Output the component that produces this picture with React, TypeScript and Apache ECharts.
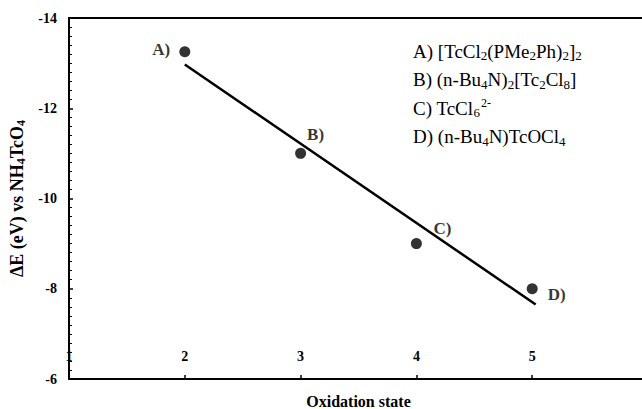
import React, { useEffect, useRef } from "react";
import * as echarts from "echarts";

const pointX = [2, 3, 4, 5];
const pointY = [-13.25, -11.0, -9.0, -8.0];
const pointLabels = ["A)", "B)", "C)", "D)"];
const fitX = [2, 5.03];
const fitY = [-12.97, -7.65];
const legendLines = [
  "A) [TcCl{s|2}(PMe{s|2}Ph){s|2}]{s|2}",
  "B) (n-Bu{s|4}N){s|2}[Tc{s|2}Cl{s|8}]",
  "C) TcCl{s|6}{p|2-}",
  "D) (n-Bu{s|4}N)TcOCl{s|4}",
];

const FONT = "Liberation Serif";

export default function App() {
  const ref = useRef<HTMLDivElement>(null);
  useEffect(() => {
    if (!ref.current) return;
    const chart = echarts.init(ref.current, undefined, { renderer: "svg" });
    const labelPos: any[] = [
      { position: "left", distance: 9, offset: [0, -2] },
      { position: "top", offset: [15, 0] },
      { position: "top", offset: [26, 4] },
      { position: "right", offset: [5, 6] },
    ];
    const rich = {
      n: { fontFamily: FONT, fontSize: 19, color: "#000", lineHeight: 22 },
      s: { fontFamily: FONT, fontSize: 13, color: "#000", lineHeight: 22, padding: [9, 0, 0, 0] },
      p: { fontFamily: FONT, fontSize: 12, color: "#000", lineHeight: 22, padding: [0, 0, 10, 1] },
    };
    chart.setOption({
      animation: false,
      grid: { left: 69, right: -6, top: 18, bottom: 30, outerBoundsMode: "none", containLabel: false },
      xAxis: [
        {
          type: "value",
          min: 1,
          max: 6,
          interval: 1,
          position: "bottom",
          name: "Oxidation state",
          nameLocation: "middle",
          nameGap: 14,
          nameTextStyle: { fontFamily: FONT, fontWeight: "bold", fontSize: 16, color: "#000" },
          axisLine: { lineStyle: { color: "#000", width: 2 } },
          axisTick: { inside: true, length: 4, lineStyle: { color: "#000", width: 1.5 } },
          axisLabel: {
            inside: true,
            margin: 16,
            fontFamily: FONT,
            fontWeight: "bold",
            fontSize: 14,
            color: "#000",
            formatter: (v: number) => (v === 6 ? "" : String(v)),
          },
          splitLine: { show: false },
        },
        {
          type: "value",
          min: 1,
          max: 6,
          position: "top",
          axisLine: { show: true, lineStyle: { color: "#000", width: 2 } },
          axisTick: { show: false },
          axisLabel: { show: false },
          splitLine: { show: false },
        },
      ],
      yAxis: {
        type: "value",
        min: -14,
        max: -6,
        interval: 2,
        inverse: true,
        name: "ΔE (eV) vs NH{s|4}TcO{s|4}",
        nameLocation: "middle",
        nameGap: 31,
        nameRotate: 90,
        nameTextStyle: {
          fontFamily: FONT,
          fontWeight: "bold",
          fontSize: 18,
          color: "#000",
          rich: {
            s: { fontFamily: FONT, fontWeight: "bold", fontSize: 12, color: "#000", padding: [9, 0, 0, 0] },
          },
        },
        axisLine: { show: true, lineStyle: { color: "#000", width: 2 } },
        axisTick: { inside: true, length: 4, lineStyle: { color: "#000", width: 1.5 } },
        minorTick: { show: true, splitNumber: 10, length: 3, lineStyle: { color: "#000", width: 1 } },
        axisLabel: { fontFamily: FONT, fontWeight: "bold", fontSize: 14, color: "#000", margin: 12 },
        splitLine: { show: false },
      },
      series: [
        {
          type: "line",
          data: fitX.map((x, i) => [x, fitY[i]]),
          showSymbol: false,
          symbol: "none",
          lineStyle: { color: "#000", width: 2.5 },
          silent: true,
        },
        {
          type: "scatter",
          symbolSize: 11,
          itemStyle: { color: "#000" },
          data: pointX.map((x, i) => ({
            value: [x, pointY[i]],
            label: {
              show: true,
              formatter: pointLabels[i],
              fontFamily: FONT,
              fontWeight: "bold",
              fontSize: 17,
              color: "#000",
              ...labelPos[i],
            },
          })),
        },
      ],
      graphic: legendLines.map((t, i) => ({
        type: "text",
        left: 413,
        top: 40 + i * 28.5,
        style: {
          text: t.replace(/^([^{]*)/, "{n|$1}").replace(/\}([^{}]+)\{/g, "}{n|$1}{").replace(/\}([^{}]+)$/, "}{n|$1}"),
          rich,
        },
      })),
    });
    return () => chart.dispose();
  }, []);
  return (
    <div
      ref={ref}
      style={{ position: "absolute", left: 0, top: 0, width: 642, height: 409 }}
    />
  );
}
